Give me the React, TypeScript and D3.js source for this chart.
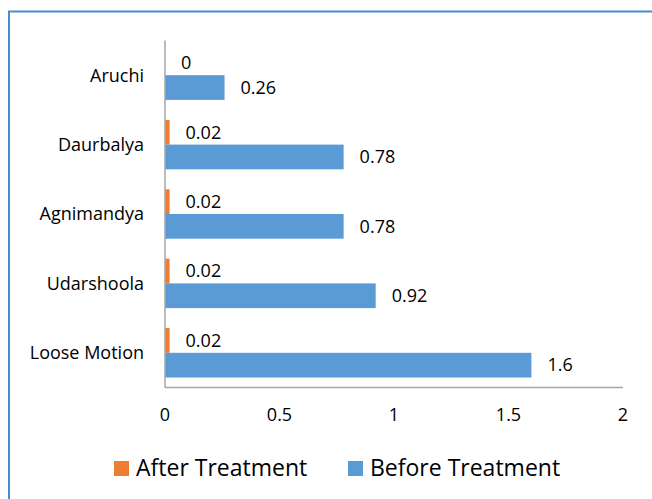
import React, { useEffect, useRef } from 'react';
import * as d3 from 'd3';

const categories = ['Aruchi', 'Daurbalya', 'Agnimandya', 'Udarshoola', 'Loose Motion'];
const afterTreatment = [0, 0.02, 0.02, 0.02, 0.02];
const beforeTreatment = [0.26, 0.78, 0.78, 0.92, 1.6];
const seriesNames = ['After Treatment', 'Before Treatment'];
const seriesColors = ['#ED7D31', '#5B9BD5'];
const xTicks = [0, 0.5, 1, 1.5, 2];

const font = '"Open Sans", sans-serif';

export default function App() {
  const ref = useRef<SVGSVGElement>(null);

  useEffect(() => {
    const svg = d3.select(ref.current);
    svg.selectAll('*').remove();

    const width = 652;
    const height = 499;
    const left = 165;
    const right = 623;
    const top = 40.5;
    const bottom = 387.5;

    // chart frame (only left/top edges are visible in the crop)
    svg.append('rect')
      .attr('x', 9)
      .attr('y', 11.5)
      .attr('width', width + 20)
      .attr('height', height + 20)
      .attr('fill', '#fff')
      .attr('stroke', '#4A8BC8')
      .attr('stroke-width', 2);

    const x = d3.scaleLinear().domain([0, 2]).range([left, right]);
    const y = d3.scaleBand<string>().domain(categories).range([top, bottom])
      .paddingInner(0.288).paddingOuter(0.144);
    const sub = d3.scaleBand<string>().domain(seriesNames).range([0, y.bandwidth()]);

    const series = [afterTreatment, beforeTreatment];

    const g = svg.append('g');
    series.forEach((vals, si) => {
      g.selectAll('.bar' + si)
        .data(vals)
        .enter()
        .append('rect')
        .attr('x', x(0))
        .attr('y', (d, i) => (y(categories[i]) as number) + (sub(seriesNames[si]) as number))
        .attr('width', (d) => x(d) - x(0))
        .attr('height', sub.bandwidth())
        .attr('fill', seriesColors[si]);

      g.selectAll('.lbl' + si)
        .data(vals)
        .enter()
        .append('text')
        .attr('x', (d) => x(d) + 16)
        .attr('y', (d, i) => (y(categories[i]) as number) + (sub(seriesNames[si]) as number) + sub.bandwidth() / 2)
        .attr('dy', '0.35em')
        .attr('font-family', font)
        .attr('font-size', 18)
        .attr('fill', '#000')
        .text((d) => String(d));
    });

    // axes
    svg.append('line')
      .attr('x1', left).attr('x2', left)
      .attr('y1', top).attr('y2', bottom)
      .attr('stroke', '#A6A6A6').attr('stroke-width', 1.5);
    svg.append('line')
      .attr('x1', left).attr('x2', right)
      .attr('y1', bottom).attr('y2', bottom)
      .attr('stroke', '#A6A6A6').attr('stroke-width', 1.5);

    svg.selectAll('.cat')
      .data(categories)
      .enter()
      .append('text')
      .attr('x', 144)
      .attr('y', (d) => (y(d) as number) + y.bandwidth() / 2)
      .attr('dy', '0.35em')
      .attr('text-anchor', 'end')
      .attr('font-family', font)
      .attr('font-size', 18)
      .attr('fill', '#000')
      .text((d) => d);

    svg.selectAll('.tick')
      .data(xTicks)
      .enter()
      .append('text')
      .attr('x', (d) => x(d))
      .attr('y', 421)
      .attr('text-anchor', 'middle')
      .attr('font-family', font)
      .attr('font-size', 18)
      .attr('fill', '#000')
      .text((d) => String(d));

    // legend
    const legendX = [114, 348];
    seriesNames.forEach((name, i) => {
      svg.append('rect')
        .attr('x', legendX[i])
        .attr('y', 461)
        .attr('width', 15)
        .attr('height', 15)
        .attr('fill', seriesColors[i]);
      svg.append('text')
        .attr('x', legendX[i] + 22)
        .attr('y', 476)
        .attr('font-family', font)
        .attr('font-size', 23)
        .attr('fill', '#000')
        .text(name);
    });
  }, []);

  return (
    <div style={{ position: 'fixed', left: 0, top: 0 }}>
      <svg ref={ref} width={652} height={499} style={{ display: 'block' }} />
    </div>
  );
}
